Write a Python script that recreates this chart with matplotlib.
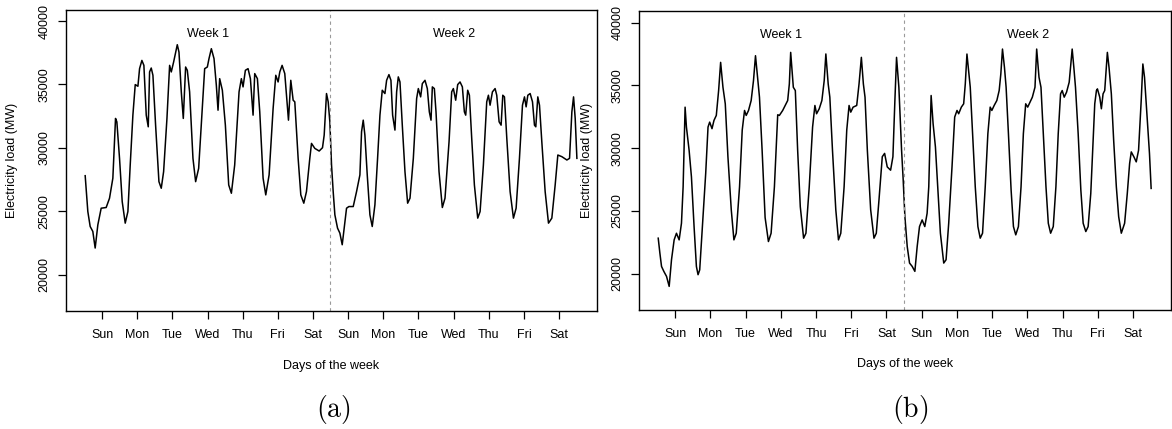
import matplotlib
matplotlib.use("Agg")
import matplotlib.pyplot as plt

plt.rcParams['font.family'] = ['Liberation Sans', 'DejaVu Sans']
plt.rcParams['mathtext.fontset'] = 'cm'

# ---------------- data ----------------
day_labels = ["Sun", "Mon", "Tue", "Wed", "Thu", "Fri", "Sat",
              "Sun", "Mon", "Tue", "Wed", "Thu", "Fri", "Sat"]
y_ticks = [20000, 25000, 30000, 35000, 40000]
week_labels = ["Week 1", "Week 2"]

# Panel (a): time in days since start, load in MW
a_time = [0.000, 0.075, 0.142, 0.217, 0.284, 0.360, 0.455, 0.597, 0.692, 0.787,
          0.863, 0.901, 0.977, 1.053, 1.139, 1.215, 1.281, 1.357, 1.424, 1.500,
          1.547, 1.613, 1.670, 1.737, 1.794, 1.832, 1.879, 1.927, 2.003, 2.098,
          2.164, 2.231, 2.326, 2.402, 2.449, 2.516, 2.620, 2.668, 2.734, 2.791,
          2.857, 2.905, 2.971, 3.066, 3.142, 3.228, 3.332, 3.399, 3.475, 3.522,
          3.589, 3.665, 3.731, 3.779, 3.826, 3.902, 3.988, 4.083, 4.159, 4.253,
          4.377, 4.443, 4.491, 4.557, 4.633, 4.700, 4.776, 4.823, 4.899, 4.966,
          5.061, 5.137, 5.232, 5.346, 5.422, 5.488, 5.536, 5.602, 5.678, 5.726,
          5.783, 5.849, 5.916, 5.963, 6.058, 6.134, 6.219, 6.295, 6.390, 6.438,
          6.532, 6.656, 6.751, 6.799, 6.865, 6.913, 6.960,
          7.008, 7.055, 7.103, 7.179, 7.245, 7.312, 7.369, 7.435, 7.502, 7.625,
          7.720, 7.815, 7.862, 7.910, 7.957, 8.024, 8.100, 8.166, 8.242, 8.318,
          8.385, 8.451, 8.527, 8.575, 8.641, 8.698, 8.746, 8.812, 8.860, 8.907,
          8.955, 9.021, 9.097, 9.173, 9.240, 9.335, 9.429, 9.477, 9.543, 9.591,
          9.667, 9.733, 9.790, 9.838, 9.876, 9.933, 9.980, 10.066, 10.160, 10.236,
          10.351, 10.426, 10.474, 10.540, 10.597, 10.664, 10.730, 10.787, 10.825, 10.882,
          10.930, 10.996, 11.072, 11.167, 11.234, 11.328, 11.423, 11.471, 11.518, 11.585,
          11.661, 11.708, 11.775, 11.832, 11.880, 11.927, 11.994, 12.088, 12.183, 12.259,
          12.354, 12.440, 12.497, 12.544, 12.592, 12.658, 12.725, 12.781, 12.819, 12.876,
          12.924, 12.990, 13.085, 13.180, 13.275, 13.370, 13.446, 13.560, 13.703, 13.779,
          13.845, 13.893, 13.940, 13.988]
a_load = [27800, 24973, 23790, 23400, 22090, 23920, 25235, 25290, 26020, 27600,
          32320, 32050, 29170, 25760, 24055, 24970, 28645, 32580, 34993, 34860,
          36250, 36900, 36510, 32580, 31660, 35990, 36300, 35727, 31790, 27330,
          26810, 28120, 32320, 36510, 35990, 36777, 38140, 37560, 34416, 32320,
          36380, 36120, 34416, 29170, 27330, 28380, 33100, 36250, 36380, 37040,
          37826, 37040, 34940, 32970, 35460, 34546, 31790, 27070, 26416, 28645,
          34416, 35460, 34810, 36120, 36250, 35460, 32580, 35860, 35460, 32840,
          27600, 26285, 27860, 33100, 35727, 35200, 35990, 36510, 35860, 34152,
          32185, 35330, 33760, 33630, 29170, 26285, 25630, 26547, 29170, 30350,
          29957, 29747, 30010, 31006, 34285, 33630, 32055,
          28645, 26547, 24710, 23660, 23270, 22350, 23660, 25235, 25365, 25365,
          26547, 27860, 31268, 32185, 31000, 27860, 24710, 23790, 25500, 29170,
          32580, 34546, 34285, 35330, 35780, 35330, 32580, 31400, 34416, 35600,
          35200, 31790, 28120, 25630, 26025, 29170, 33890, 34678, 34022, 35070,
          35330, 34678, 32840, 32185, 34810, 34678, 32840, 28120, 25290, 26025,
          30480, 34416, 34678, 33760, 34993, 35200, 34810, 32840, 32580, 34546,
          34152, 30744, 27070, 24450, 24970, 28645, 33630, 34152, 33366, 34416,
          34678, 34152, 32055, 31790, 34152, 34022, 30744, 26547, 24450, 25235,
          29170, 33366, 34022, 33235, 34152, 34285, 33630, 31790, 31660, 34022,
          33366, 30480, 26547, 24055, 24450, 27070, 29433, 29302, 29040, 29170,
          32840, 34022, 32316, 29170]

# Panel (b)
b_time = [0.000, 0.047, 0.094, 0.160, 0.236, 0.311, 0.377, 0.452, 0.518, 0.594,
          0.660, 0.707, 0.763, 0.801, 0.877, 0.943, 1.018, 1.084, 1.131, 1.178,
          1.254, 1.348, 1.414, 1.461, 1.527, 1.583, 1.649, 1.715, 1.772, 1.838,
          1.904, 1.979, 2.074, 2.149, 2.215, 2.309, 2.385, 2.451, 2.498, 2.564,
          2.639, 2.705, 2.762, 2.828, 2.875, 2.950, 3.035, 3.129, 3.205, 3.299,
          3.393, 3.440, 3.534, 3.676, 3.723, 3.761, 3.836, 3.893, 3.959, 4.034,
          4.128, 4.194, 4.288, 4.383, 4.449, 4.496, 4.571, 4.647, 4.713, 4.760,
          4.826, 4.873, 4.948, 5.042, 5.118, 5.184, 5.278, 5.353, 5.419, 5.467,
          5.533, 5.636, 5.702, 5.768, 5.825, 5.872, 5.938, 6.032, 6.126, 6.192,
          6.268, 6.362, 6.428, 6.503, 6.598, 6.664, 6.720, 6.767, 6.833, 6.880,
          6.910, 6.956, 7.004, 7.070, 7.136, 7.211, 7.287, 7.353, 7.419, 7.494,
          7.569, 7.635, 7.682, 7.749, 7.805, 7.871, 7.937, 8.012, 8.107, 8.173,
          8.248, 8.342, 8.418, 8.484, 8.531, 8.607, 8.673, 8.719, 8.766, 8.813,
          8.860, 8.926, 9.002, 9.077, 9.143, 9.209, 9.285, 9.360, 9.426, 9.473,
          9.539, 9.615, 9.681, 9.728, 9.775, 9.831, 9.878, 9.944, 10.020, 10.086,
          10.152, 10.227, 10.302, 10.368, 10.434, 10.491, 10.557, 10.623, 10.698, 10.746,
          10.812, 10.868, 10.934, 11.010, 11.076, 11.142, 11.217, 11.292, 11.358, 11.424,
          11.471, 11.528, 11.594, 11.669, 11.754, 11.801, 11.848, 11.924, 12.000, 12.066,
          12.141, 12.207, 12.282, 12.348, 12.395, 12.443, 12.471, 12.537, 12.583, 12.631,
          12.678, 12.753, 12.800, 12.866, 12.932, 13.008, 13.074, 13.149, 13.243, 13.319,
          13.385, 13.432, 13.507, 13.573, 13.639, 13.714, 13.761, 13.808, 13.883, 13.949,
          13.996]
b_load = [22836, 21648, 20586, 20190, 19794, 19000, 21117, 22702, 23230, 22702,
          24025, 26925, 33265, 31680, 29834, 27720, 23758, 20586, 19929, 20316,
          23758, 27990, 31680, 32076, 31553, 32210, 32607, 34588, 36831, 34850,
          33530, 29322, 25100, 22702, 23230, 26925, 31437, 33003, 32607, 33003,
          33795, 35380, 37361, 35380, 34060, 29834, 24480, 22570, 23230, 26925,
          32660, 32607, 33003, 33795, 35115, 37626, 34850, 34588, 29834, 25340,
          22836, 23230, 26925, 31680, 33400, 32740, 33135, 33795, 35380, 37500,
          35115, 34060, 29834, 25100, 22702, 23230, 26925, 31437, 33400, 32870,
          33265, 33400, 35115, 37230, 35115, 34060, 29834, 25100, 22836, 23230,
          25868, 29322, 29585, 28510, 28250, 29322, 33795, 37230, 34850, 31680,
          29836, 27459, 24553, 22177, 20856, 20592, 20196, 22177, 23761, 24290,
          23761, 24817, 26930, 34193, 31948, 30100, 26930, 23233, 20856, 21120,
          24025, 28515, 32477, 33005, 32741, 33269, 33533, 35118, 37494, 36174,
          34853, 31156, 26930, 23761, 22837, 23233, 26930, 31156, 33269, 33005,
          33401, 33797, 34589, 35910, 37890, 36438, 34853, 31156, 26666, 23761,
          23101, 23761, 26930, 31156, 33533, 33269, 33665, 34061, 34853, 37890,
          35646, 34853, 31156, 26930, 24025, 23233, 23761, 26930, 31156, 34325,
          34589, 34061, 34457, 35250, 37890, 36438, 34853, 31156, 26666, 24025,
          23365, 23761, 26402, 30628, 33533, 34589, 34721, 34061, 33137, 34325,
          34589, 37626, 36438, 34325, 30628, 26930, 24553, 23233, 24025, 26402,
          28779, 29704, 29307, 28911, 29836, 33797, 36702, 35646, 32477, 29572,
          26798]

week_split = 6.97          # end of week 1 (days)
tick_offset = 0.48         # day-label tick position within each day

# ---------------- figure ----------------
W, H = 1172, 429
fig = plt.figure(figsize=(W / 100, H / 100), dpi=100)


def px_rect(left, right, top, bottom):
    return [left / W, 1 - bottom / H, (right - left) / W, (bottom - top) / H]


panels = [
    (px_rect(65.5, 597, 10, 311), a_time, a_load, "(a)", 333, 12),
    (px_rect(638.5, 1171, 11.5, 310), b_time, b_load, "(b)", 910, 587),
]

for rect, t, load, cap, cap_x, ylab_px in panels:
    ax = fig.add_axes(rect)
    ax.plot(t, load, color="black", lw=1.1, solid_joinstyle="round")
    ax.axvline(week_split, color="#9a9a9a", lw=0.8, ls=(0, (3, 3)))
    ax.set_xlim(-0.56, 14.56)
    ax.set_ylim(17120, 40880)
    ax.set_xticks([k + tick_offset for k in range(len(day_labels))])
    ax.set_xticklabels(day_labels)
    ax.set_yticks(y_ticks)
    ax.set_yticklabels([str(v) for v in y_ticks])
    ax.tick_params(axis="both", direction="out", length=6, width=0.9,
                   color="black", labelsize=9)
    ax.tick_params(axis="x", pad=7)
    ax.tick_params(axis="y", pad=5, labelrotation=90)
    for lab in ax.get_yticklabels():
        lab.set_va("center")
    for s in ax.spines.values():
        s.set_linewidth(1.0)
    ax.text(3.5, 39000, week_labels[0], ha="center", va="center", fontsize=9)
    ax.text(10.5, 39000, week_labels[1], ha="center", va="center", fontsize=9)
    ax.set_xlabel("Days of the week", fontsize=9)
    ax.xaxis.set_label_coords(0.5, (311 - 365.7) / 301)
    ax.xaxis.label.set_va("center")
    ax.set_ylabel("Electricity load (MW)", fontsize=9)
    left_px = rect[0] * W
    ax.yaxis.set_label_coords((ylab_px - left_px) / (rect[2] * W), 0.5)
    ax.yaxis.label.set_va("center")
    fig.text(cap_x / W, 1 - 410 / H, r"$\mathrm{" + cap + "}$",
             ha="center", va="center", fontsize=20)

fig.savefig("out.png", dpi=100)
